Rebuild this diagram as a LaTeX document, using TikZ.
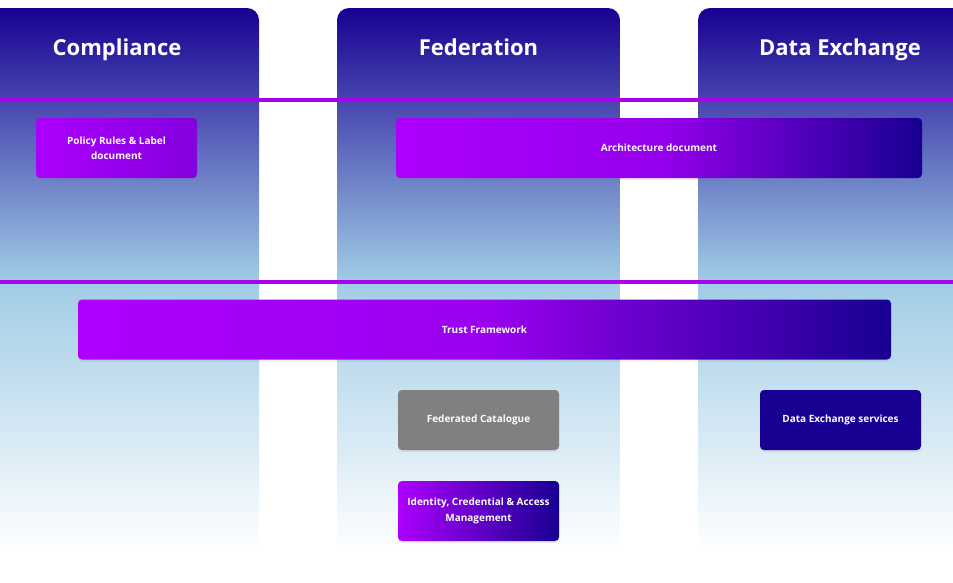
\documentclass[tikz,border=0pt]{standalone}
\usepackage{fontspec}
\setmainfont{Open Sans}
\usetikzlibrary{shadows}

\definecolor{gxpurple}{RGB}{172,0,252}
\definecolor{gxnavy}{RGB}{24,0,146}
\definecolor{gxsky}{RGB}{160,204,230}
\definecolor{gxgrey}{RGB}{128,128,128}
\definecolor{gxline}{RGB}{170,0,238}

\begin{document}
\begin{tikzpicture}[x=1pt,y=-1pt,
pillar/.style ={rounded corners=12pt, top color=gxnavy, bottom color=white,
  middle color=gxsky
},
title/.style ={anchor=base, text=white, font=\fontsize{22}{26}\selectfont\bfseries},
band/.style ={draw=gxline, line width=4pt},
box/.style ={rectangle, rounded corners=4pt, text=white, align=center,
  font=\fontsize{10}{15.5}\selectfont\bfseries, minimum height=60pt,
  drop shadow={shadow xshift=0pt, shadow yshift=-2pt, opacity=0.15}
},
doc/.style ={box, left color=gxpurple, right color=gxnavy}]
\useasboundingbox (0,0) rectangle (953,582);
\clip (0,0) rectangle (953,582);
\fill[white] (0,0) rectangle (953,582);
% the three pillars
\path[pillar] (-24,8) rectangle (259,552);
\path[pillar] (337,8) rectangle (620,552);
\path[pillar] (698,8) rectangle (981,552);
\node (compliance) at (117,55) [title] {Compliance};
\node (federation) at (478.5,55) [title] {Federation};
\node (exchange) at (840,55) [title] {Data Exchange};
\draw[band] (0,100) -- (953,100);
\draw[band] (0,282) -- (953,282);
% documents and services
\node (policy) at (116.5,148) [doc, minimum width=161pt,
  right color=gxpurple!72!gxnavy] {Policy Rules \& Label\\document};
\node (arch) at (659,148) [doc, minimum width=526pt,
  middle color=gxpurple!85!gxnavy] {Architecture document};
\node (trust) at (484.5,329.5) [doc, minimum width=813pt,
  middle color=gxpurple!88!gxnavy] {Trust Framework};
\node (catalogue) at (478.5,420) [box, minimum width=161pt, fill=gxgrey] {Federated Catalogue};
\node (dxs) at (840.5,420) [box, minimum width=161pt, fill=gxnavy] {Data Exchange services};
\node (iam) at (478.5,511) [doc, minimum width=161pt] {Identity, Credential \& Access\\Management};
\end{tikzpicture}
\end{document}
